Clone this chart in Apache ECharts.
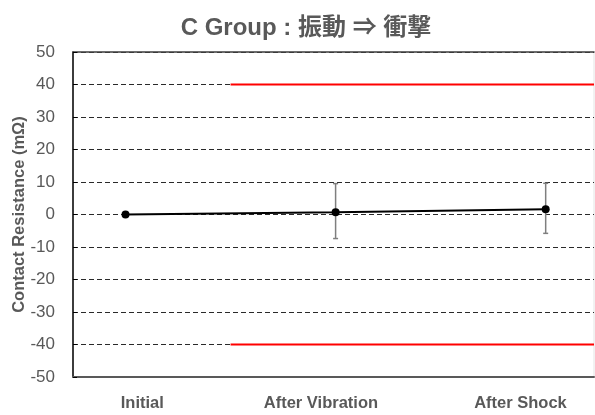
<!DOCTYPE html>
<html>
<head>
<meta charset="utf-8">
<script src="https://cdn.jsdelivr.net/npm/echarts@6/dist/echarts.min.js"></script>
<style>
html,body{margin:0;padding:0;background:#fff;}
#c{width:595px;height:415px;}
</style>
</head>
<body>
<div id="c"></div>
<script>
// ---- data ----
const categories = ['Initial', 'After Vibration', 'After Shock'];
const meanValues = [0, 0.7, 1.6];
const errHigh = [0, 9.5, 9.6];
const errLow = [0, -7.4, -5.8];
const upperLimit = 40;
const lowerLimit = -40;
const limitStartX = 1.5;
const yTicks = [-50, -40, -30, -20, -10, 0, 10, 20, 30, 40, 50];

// ---- layout constants ----
const X_MIN = 0.75, X_MAX = 3.23;
const xLabelAt = [1.08, 1.93, 2.88];

const xs = categories.map((c, i) => i + 1);
const meanData = xs.map((x, i) => [x, meanValues[i]]);
const errData = xs.map((x, i) => [x, errLow[i], errHigh[i]]).filter(d => d[1] !== d[2]);

const gray = '#595959';
const chart = echarts.init(document.getElementById('c'));
chart.setOption({
  animation: false,
  title: {
    text: 'C Group : 振動 ⇒ 衝撃',
    left: 301, top: 11, textAlign: 'center',
    textStyle: { fontFamily: '"Liberation Sans", "Noto Sans CJK JP", sans-serif', fontWeight: 'bold', fontSize: 24, color: gray }
  },
  grid: { left: 73, right: 1, top: 52, bottom: 38, show: true, borderColor: '#e4e4e4', borderWidth: 1, outerBoundsMode: 'none', containLabel: false },
  xAxis: [{
    type: 'value', min: X_MIN, max: X_MAX, position: 'bottom',
    axisLine: { show: true, onZero: false, lineStyle: { color: gray, width: 2 } },
    axisTick: { show: false },
    splitLine: { show: false },
    axisLabel: {
      customValues: xLabelAt,
      formatter: v => { const i = xLabelAt.indexOf(v); return i >= 0 ? categories[i] : ''; },
      margin: 18,
      color: gray, fontSize: 16.5, fontWeight: 'bold',
      fontFamily: '"Liberation Sans", Arial, sans-serif'
    }
  }, {
    type: 'value', min: X_MIN, max: X_MAX, position: 'top',
    axisLine: { show: true, onZero: false, lineStyle: { color: '#404040', width: 1.5 } },
    axisTick: { show: false }, axisLabel: { show: false }, splitLine: { show: false }
  }],
  yAxis: {
    type: 'value', min: -50, max: 50, interval: 10,
    name: 'Contact Resistance (mΩ)', nameLocation: 'middle', nameGap: 45, nameMoveOverlap: false,
    nameTextStyle: { color: gray, fontSize: 16.5, fontWeight: 'bold', fontFamily: '"Liberation Sans", Arial, sans-serif' },
    axisLine: { show: true, lineStyle: { color: '#000', width: 1.5 } },
    axisTick: { show: true, inside: true, length: 4, lineStyle: { color: '#000' } },
    axisLabel: {
      margin: 18, color: gray, fontSize: 17,
      fontFamily: '"Liberation Sans", Arial, sans-serif',
      formatter: v => yTicks.includes(v) ? String(v) : ''
    },
    splitLine: { show: true, lineStyle: { color: '#2a2a2a', width: 1, type: [5, 3] } }
  },
  series: [
    {
      type: 'line', name: 'upper', data: [[limitStartX, upperLimit], [X_MAX, upperLimit]],
      symbol: 'none', lineStyle: { color: '#ff0000', width: 2 }, z: 3, silent: true
    },
    {
      type: 'line', name: 'lower', data: [[limitStartX, lowerLimit], [X_MAX, lowerLimit]],
      symbol: 'none', lineStyle: { color: '#ff0000', width: 2 }, z: 3, silent: true
    },
    {
      type: 'custom', name: 'err', data: errData, z: 4,
      renderItem: (params, api) => {
        const x = api.value(0);
        const lo = api.coord([x, api.value(1)]);
        const hi = api.coord([x, api.value(2)]);
        const w = 2.5;
        const st = { stroke: '#7f7f7f', lineWidth: 1.5 };
        return {
          type: 'group', children: [
            { type: 'line', shape: { x1: lo[0], y1: lo[1], x2: hi[0], y2: hi[1] }, style: st },
            { type: 'line', shape: { x1: hi[0] - w, y1: hi[1], x2: hi[0] + w, y2: hi[1] }, style: st },
            { type: 'line', shape: { x1: lo[0] - w, y1: lo[1], x2: lo[0] + w, y2: lo[1] }, style: st }
          ]
        };
      }
    },
    {
      type: 'line', name: 'mean', data: meanData, z: 5,
      symbol: 'circle', symbolSize: 8,
      itemStyle: { color: '#000' }, lineStyle: { color: '#000', width: 2 }
    }
  ]
});
</script>
</body>
</html>
